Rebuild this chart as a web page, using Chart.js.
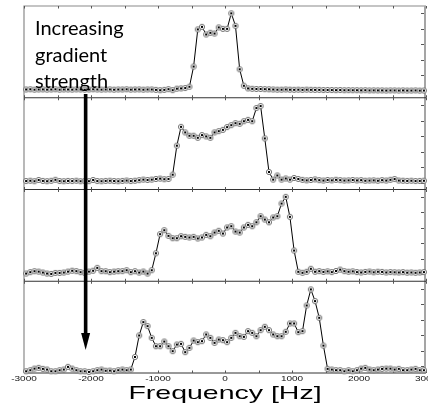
<!DOCTYPE html>
<html>
<head>
<meta charset="utf-8">
<script src="https://cdn.jsdelivr.net/npm/chart.js@4.4.1/dist/chart.umd.min.js"></script>
<style>
  html, body { margin: 0; padding: 0; background: #fff; overflow: hidden; }
  #wrap { width: 445px; height: 410px; }
</style>
</head>
<body>
<div id="wrap"><canvas id="chart" width="445" height="410"></canvas></div>
<script>
// frequency grid (Hz), same for the 4 spectra
const FREQ = [
  -2968.75, -2906.25, -2843.75, -2781.25, -2718.75, -2656.25, -2593.75, -2531.25, -2468.75, -2406.25,
  -2343.75, -2281.25, -2218.75, -2156.25, -2093.75, -2031.25, -1968.75, -1906.25, -1843.75, -1781.25,
  -1718.75, -1656.25, -1593.75, -1531.25, -1468.75, -1406.25, -1343.75, -1281.25, -1218.75, -1156.25,
  -1093.75, -1031.25, -968.75, -906.25, -843.75, -781.25, -718.75, -656.25, -593.75, -531.25,
  -468.75, -406.25, -343.75, -281.25, -218.75, -156.25, -93.75, -31.25, 31.25, 93.75,
  156.25, 218.75, 281.25, 343.75, 406.25, 468.75, 531.25, 593.75, 656.25, 718.75,
  781.25, 843.75, 906.25, 968.75, 1031.25, 1093.75, 1156.25, 1218.75, 1281.25, 1343.75,
  1406.25, 1468.75, 1531.25, 1593.75, 1656.25, 1718.75, 1781.25, 1843.75, 1906.25, 1968.75,
  2031.25, 2093.75, 2156.25, 2218.75, 2281.25, 2343.75, 2406.25, 2468.75, 2531.25, 2593.75,
  2656.25, 2718.75, 2781.25, 2843.75, 2906.25, 2968.75
];

// signal (arb. units, 0-100 per panel), weakest gradient first
const SPEC_1 = [
  9.0, 9.2, 8.8, 9.0, 9.1, 8.9, 9.0, 9.2, 8.8, 9.0,
  9.0, 8.9, 9.1, 9.0, 8.8, 9.0, 9.2, 9.0, 8.9, 9.0,
  9.1, 8.8, 9.0, 9.0, 9.2, 8.9, 9.0, 9.1, 8.8, 9.0,
  9.0, 8.6, 8.2, 8.6, 9.4, 8.3, 9.9, 10.2, 10.6, 12.0,
  34, 74.5, 77.3, 69, 70.8, 70, 76.7, 75.1, 75.1, 92,
  78.4, 31, 13.1, 10.2, 9.8, 9.6, 9.6, 9.4, 9.2, 9.0,
  8.8, 8.8, 9.0, 8.8, 8.7, 8.8, 8.6, 8.8, 8.7, 8.6,
  8.6, 8.4, 8.5, 8.4, 8.3, 8.4, 8.2, 8.3, 8.2, 8.2,
  8.1, 8.2, 8.0, 8.1, 8.0, 8.0, 7.9, 8.0, 8.0, 7.9,
  8.0, 7.9, 7.9, 8.0, 7.8, 7.9
];
const SPEC_2 = [
  9.2, 9.6, 9.0, 10.4, 9.4, 9.0, 9.5, 10.6, 9.2, 9.0,
  9.4, 9.2, 9.6, 9.0, 9.3, 9.1, 10.4, 9.2, 9.0, 9.4,
  9.6, 9.2, 9.0, 9.4, 9.8, 9.2, 9.6, 10.2, 10.8, 10.4,
  10.8, 11.5, 11.9, 11.2, 11.5, 16.2, 47.8, 68.3, 62.2, 58.6,
  58.6, 56.4, 59.3, 57.9, 56.4, 62.2, 63.6, 65.0, 68.0, 70.1,
  72.3, 71.6, 74.4, 75.9, 74.4, 88.8, 91.0, 55.7, 19.1, 10.8,
  15.3, 10.8, 12.0, 10.8, 12.6, 11.5, 10.5, 10.0, 10.4, 11.0,
  10.2, 9.8, 10.4, 10.0, 10.6, 10.2, 9.8, 10.0, 10.4, 9.9,
  10.2, 9.6, 9.8, 10.0, 9.6, 10.2, 9.8, 10.6, 11.4, 9.8,
  9.6, 9.4, 9.6, 9.2, 9.4, 9.6
];
const SPEC_3 = [
  8.4, 9.9, 10.9, 10.5, 9.5, 8.4, 8.0, 9.1, 9.1, 9.5,
  10.5, 11.5, 11.0, 9.9, 9.1, 10.5, 11.5, 14.6, 11.0, 10.9,
  9.9, 10.5, 10.9, 11.0, 12.0, 9.9, 10.9, 9.5, 10.6, 8.4,
  12.0, 30.5, 51.3, 55.6, 49.5, 46.9, 46.9, 49.1, 48.4, 47.7,
  48.4, 46.6, 47.7, 50.6, 49.1, 53.1, 55.0, 52.0, 58.6, 60.0,
  54.2, 53.1, 58.6, 61.5, 60.0, 64.3, 70.9, 67.3, 64.3, 69.5,
  70.9, 84.7, 92.0, 70.2, 33.5, 10.3, 9.2, 10.3, 13.6, 10.4,
  11.0, 10.2, 10.8, 10.0, 11.2, 12.7, 11.0, 10.4, 10.8, 10.0,
  9.6, 10.2, 10.6, 9.8, 10.4, 10.2, 9.6, 10.0, 9.8, 9.6,
  9.9, 9.4, 9.6, 9.2, 9.6, 10.0
];
const SPEC_4 = [
  1.9, 3.0, 4.8, 5.6, 4.5, 3.8, 1.9, 1.9, 3.0, 3.8,
  6.7, 4.8, 3.0, 1.9, 1.9, 1.2, 1.9, 3.0, 3.8, 2.5,
  2.6, 1.9, 3.0, 3.8, 3.0, 3.8, 17.5, 40.9, 55.5, 51.1,
  38.3, 29.2, 29.2, 34.3, 29.2, 23.8, 31.0, 31.8, 22.7, 27.4,
  35.4, 33.6, 34.7, 42.0, 38.3, 32.9, 36.5, 35.8, 33.6, 38.3,
  43.8, 40.1, 39.4, 45.6, 43.8, 40.1, 46.7, 50.4, 46.7, 42.0,
  40.1, 40.1, 44.9, 54.0, 54.0, 44.5, 45.6, 73.6, 91.1, 78.4,
  60.2, 29.9, 4.5, 3.8, 3.0, 3.0, 1.9, 3.0, 1.9, 3.0,
  4.8, 5.6, 3.8, 3.0, 3.8, 4.5, 4.8, 4.8, 3.8, 4.5,
  3.0, 3.0, 3.8, 4.5, 3.0, 3.0
];

const SPECTRA = [SPEC_1, SPEC_2, SPEC_3, SPEC_4];
const PANELS = ['y1', 'y2', 'y3', 'y4'];
const X_TICKS = [-3000, -2500, -2000, -1500, -1000, -500, 0, 500, 1000, 1500, 2000, 2500, 3000];
const X_LABELS = [-3000, -2000, -1000, 0, 1000, 2000, 3000];
const Y_TICKS = [7.5, 24.4, 41.3, 58.2, 75.1, 92];
const X_TITLE = 'Frequency [Hz]';
const NOTE_LINES = ['Increasing', 'gradient', 'strength'];

// marker: grey ring with black centre
const marker = document.createElement('canvas');
marker.width = 8; marker.height = 8;
(() => {
  const m = marker.getContext('2d');
  m.beginPath();
  m.arc(4, 4, 2.6, 0, Math.PI * 2);
  m.fillStyle = '#fff';
  m.fill();
  m.lineWidth = 1;
  m.strokeStyle = '#707070';
  m.stroke();
  m.fillStyle = '#000';
  m.fillRect(3, 3, 2, 2);
})();

const framePlugin = {
  id: 'frame',
  beforeDatasetsDraw(chart) {
    const { ctx, chartArea: a, scales } = chart;
    const xs = scales.x;
    ctx.save();
    ctx.strokeStyle = '#8a8a8a';
    ctx.lineWidth = 1.2;
    ctx.beginPath();
    ctx.moveTo(a.left, a.bottom);
    ctx.lineTo(a.left, a.top);
    ctx.lineTo(a.right, a.top);
    ctx.stroke();
    ctx.strokeStyle = '#a5a5a5';
    ctx.lineWidth = 2;
    ctx.beginPath();
    ctx.moveTo(a.right - 1, a.top);
    ctx.lineTo(a.right - 1, a.bottom);
    ctx.stroke();

    PANELS.forEach(id => {
      const s = scales[id];
      ctx.strokeStyle = '#333';
      ctx.lineWidth = 1;
      ctx.beginPath();
      ctx.moveTo(a.left, s.bottom);
      ctx.lineTo(a.right, s.bottom);
      ctx.stroke();
      ctx.strokeStyle = '#555';
      ctx.beginPath();
      X_TICKS.forEach(v => {
        const px = Math.round(xs.getPixelForValue(v)) + 0.5;
        ctx.moveTo(px, s.top);
        ctx.lineTo(px, s.top + 2.5);
        ctx.moveTo(px, s.bottom);
        ctx.lineTo(px, s.bottom - 2.5);
      });
      Y_TICKS.forEach(v => {
        const py = Math.round(s.getPixelForValue(v)) + 0.5;
        ctx.moveTo(a.right - 2, py);
        ctx.lineTo(a.right - 5, py);
      });
      ctx.stroke();
    });
    ctx.restore();
  },
  afterDraw(chart) {
    const { ctx, chartArea: a, scales } = chart;
    const xs = scales.x;
    ctx.save();
    // tick labels (source figure is stretched horizontally)
    ctx.fillStyle = '#111';
    ctx.font = '8px "Liberation Sans", Arial, sans-serif';
    ctx.textAlign = 'center';
    ctx.textBaseline = 'top';
    X_LABELS.forEach(v => {
      ctx.save();
      ctx.translate(xs.getPixelForValue(v), a.bottom + 2);
      ctx.scale(1.25, 1);
      ctx.fillText(String(v), 0, 0);
      ctx.restore();
    });
    // axis title
    ctx.fillStyle = '#000';
    ctx.font = '19px "Liberation Sans", Arial, sans-serif';
    ctx.textBaseline = 'alphabetic';
    ctx.save();
    ctx.translate((a.left + a.right) / 2, a.bottom + 26);
    ctx.scale(1.5, 1);
    ctx.fillText(X_TITLE, 0, 0);
    ctx.restore();

    // annotation
    ctx.font = '20px Lato, "Open Sans", sans-serif';
    ctx.textAlign = 'left';
    NOTE_LINES.forEach((t, i) => ctx.fillText(t, 35, 35 + i * 26.5));

    // arrow
    const ax = xs.getPixelForValue(-2080);
    ctx.strokeStyle = '#000';
    ctx.lineWidth = 3.6;
    ctx.beginPath();
    ctx.moveTo(ax, 94);
    ctx.lineTo(ax, 336);
    ctx.stroke();
    ctx.beginPath();
    ctx.moveTo(ax - 4.5, 333);
    ctx.lineTo(ax + 4.5, 333);
    ctx.lineTo(ax, 350);
    ctx.closePath();
    ctx.fill();
    ctx.restore();
  }
};

const scales = {
  x: { type: 'linear', min: -3000, max: 3000, display: false }
};
PANELS.forEach(id => {
  scales[id] = { type: 'linear', position: 'right', stack: 'panels', stackWeight: 1, min: 0, max: 100, display: false };
});

new Chart(document.getElementById('chart'), {
  type: 'line',
  data: {
    datasets: SPECTRA.map((spec, k) => ({
      label: 'G' + (k + 1),
      data: FREQ.map((f, i) => ({ x: f, y: spec[i] })),
      yAxisID: PANELS[k],
      borderColor: '#000',
      borderWidth: 1,
      pointStyle: marker,
      pointRadius: 3,
      tension: 0,
      clip: false,
    })),
  },
  options: {
    responsive: false,
    animation: false,
    events: [],
    layout: { padding: { left: 24, right: 19, top: 6, bottom: 37 } },
    plugins: { legend: { display: false }, tooltip: { enabled: false } },
    scales,
  },
  plugins: [framePlugin],
});
</script>
</body>
</html>
